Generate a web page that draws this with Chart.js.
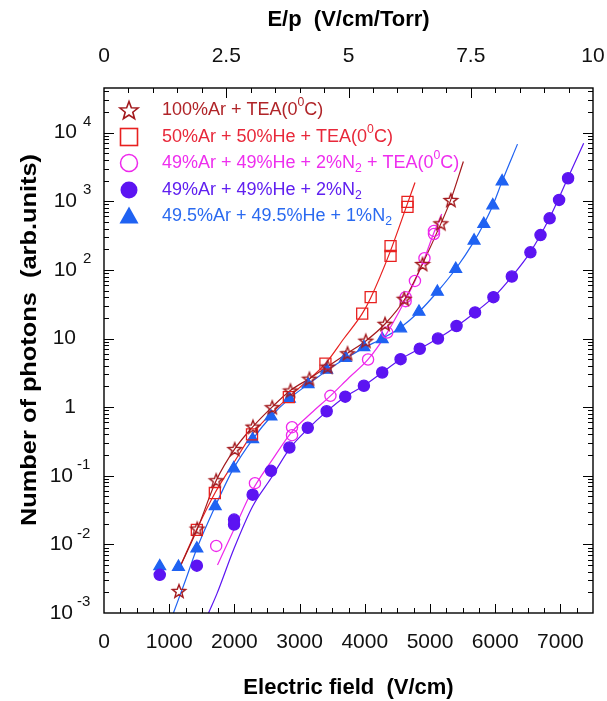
<!DOCTYPE html>
<html><head><meta charset="utf-8">
<script src="https://cdn.jsdelivr.net/npm/chart.js@4.4.0/dist/chart.umd.min.js"></script>
<style>html,body{margin:0;padding:0;background:#fff;}#wrap{width:607px;height:701px;}</style>
</head><body><div id="wrap"><canvas id="c" width="607" height="701"></canvas></div>
<script>
// ---------- data ----------
const seriesLabels = [
  '100%Ar + TEA(0^{0}C)',
  '50%Ar + 50%He + TEA(0^{0}C)',
  '49%Ar + 49%He + 2%N_{2} + TEA(0^{0}C)',
  '49%Ar + 49%He + 2%N_{2}',
  '49.5%Ar + 49.5%He + 1%N_{2}'
];
// 100%Ar + TEA (stars)
const starField   = [1150, 1430, 1720, 2005, 2285, 2580, 2860, 3150, 3430, 3735, 4015, 4310, 4605, 4885, 5165, 5320];
const starPhotons = [0.0021, 0.017, 0.086, 0.245, 0.52, 1.0, 1.75, 2.6, 3.9, 6.1, 9.3, 16.4, 38, 122, 478, 1045];
// 50%Ar + 50%He + TEA (open squares)
const squareField   = [1424, 1700, 2270, 2835, 3396, 3960, 4090, 4395, 4395, 4655, 4655];
const squarePhotons = [0.0163, 0.056, 0.40, 1.4, 4.3, 23, 40, 160, 222, 830, 980];
// 49%Ar + 49%He + 2%N2 + TEA (open circles)
const openCircleField   = [1721, 2315, 2884, 2884, 3473, 4050, 4344, 4626, 4626, 4769, 4915, 5061, 5061];
const openCirclePhotons = [0.0095, 0.078, 0.51, 0.39, 1.46, 4.95, 12.2, 35, 40, 69, 148, 333, 370];
// 49%Ar + 49%He + 2%N2 (filled circles)
const dotField   = [855, 1424, 1995, 1995, 2280, 2561, 2843, 3125, 3415, 3700, 3986, 4267, 4549, 4843, 5122, 5407, 5691, 5973, 6255, 6540, 6695, 6835, 6980, 7118];
const dotPhotons = [0.0036, 0.0049, 0.0230, 0.0195, 0.053, 0.118, 0.258, 0.50, 0.87, 1.42, 2.05, 3.2, 5.0, 7.1, 10, 15.2, 24, 40, 80, 180, 321, 563, 1045, 2165];
// 49.5%Ar + 49.5%He + 1%N2 (filled triangles)
const triField   = [855, 1142, 1424, 1706, 1990, 2280, 2561, 2843, 3130, 3415, 3704, 3986, 4267, 4549, 4831, 5113, 5394, 5676, 5825, 5963, 6106];
const triPhotons = [0.0048, 0.0047, 0.0087, 0.036, 0.128, 0.34, 0.73, 1.33, 2.15, 3.5, 5.2, 7.5, 9.8, 14, 24.5, 48, 103, 266, 465, 870, 1950];

// fitted curves
const starFitField   = [1157, 1434, 1721, 2003, 2285, 2577, 2858, 3150, 3430, 3735, 4020, 4313, 4610, 4890, 5170, 5317, 5512];
const starFitPhotons = [0.0045, 0.017, 0.085, 0.244, 0.52, 1.0, 1.75, 2.6, 3.9, 6.1, 9.3, 16.4, 37, 125, 480, 1040, 3800];
const squareFitField   = [1157, 1424, 1706, 2000, 2270, 2550, 2833, 3115, 3396, 3680, 3960, 4090, 4385, 4650, 4770];
const squareFitPhotons = [0.0045, 0.0166, 0.057, 0.16, 0.40, 0.78, 1.4, 2.4, 4.3, 10, 23, 39, 180, 900, 1880];
const openCircleFitField   = [1741, 2000, 2270, 2580, 2884, 3180, 3473, 3760, 4050, 4344, 4626, 4769, 4915, 5061, 5180];
const openCircleFitPhotons = [0.005, 0.017, 0.06, 0.17, 0.44, 0.82, 1.46, 2.7, 4.95, 12.2, 37, 69, 148, 350, 650];
const dotFitField   = [1603, 1731, 1990, 2280, 2561, 2843, 3125, 3412, 3704, 3986, 4267, 4549, 4841, 5122, 5404, 5691, 5973, 6255, 6536, 6829, 7111, 7357];
const dotFitPhotons = [0.001, 0.0019, 0.0085, 0.036, 0.092, 0.245, 0.48, 0.86, 1.43, 2.05, 3.2, 5.0, 7.1, 10, 15, 24, 40, 80, 180, 560, 2150, 7000];
const triFitField   = [1065, 1250, 1424, 1706, 1987, 2280, 2561, 2843, 3130, 3415, 3704, 3986, 4267, 4549, 4831, 5113, 5394, 5676, 5825, 5963, 6106, 6342];
const triFitPhotons = [0.001, 0.003, 0.0087, 0.036, 0.128, 0.34, 0.73, 1.33, 2.15, 3.4, 5.1, 7.3, 10, 14.5, 24.5, 48, 103, 260, 465, 870, 1950, 6800];

// axis tick labels
const fieldTickLabels = ['0', '1000', '2000', '3000', '4000', '5000', '6000', '7000'];
const eOverPTickLabels = ['0', '2.5', '5', '7.5', '10'];
const photonTickExponents = [-3, -2, -1, 0, 1, 2, 3, 4];
const xTitle = 'Electric field  (V/cm)';
const yTitle = 'Number of photons  (arb.units)';
const topTitle = 'E/p  (V/cm/Torr)';

// ---------- styles ----------
const FONT = '"Liberation Sans", Arial, Helvetica, sans-serif';
const C_STAR = '#a3191d', C_SQ = '#e8201f', C_OC = '#ee28ec', C_DOT = '#5c14f2', C_TRI = '#1f62f2';
const TEXT_COLORS = ['#b02428', '#e8283a', '#ee2eee', '#6020f0', '#2a6af0'];

function pts(xs, ys) { return xs.map((x, i) => ({ x: x, y: ys[i] })); }

function starPath(ctx, cx, cy, R, r) {
  ctx.beginPath();
  for (let i = 0; i < 10; i++) {
    const rad = (i % 2 === 0) ? R : r;
    const ang = -Math.PI / 2 + i * Math.PI / 5;
    const px = cx + rad * Math.cos(ang), py = cy + rad * Math.sin(ang);
    if (i === 0) ctx.moveTo(px, py); else ctx.lineTo(px, py);
  }
  ctx.closePath();
}
function makeStar(R, color, lw) {
  const s = Math.ceil(2 * R + 4);
  const cv = document.createElement('canvas'); cv.width = s; cv.height = s;
  const g = cv.getContext('2d');
  g.strokeStyle = color; g.lineWidth = lw; g.lineJoin = 'miter';
  starPath(g, s / 2, s / 2 + R * 0.1, R, R * 0.42);
  g.stroke();
  return cv;
}
const starImg = makeStar(7, C_STAR, 1.4);

function markerDs(label, xs, ys, style, radius, color, filled) {
  return {
    label: label, data: pts(xs, ys), showLine: false, order: 1,
    pointStyle: style, pointRadius: radius, pointHoverRadius: radius,
    pointBorderColor: color, pointBackgroundColor: filled ? color : 'rgba(0,0,0,0)',
    pointBorderWidth: 1.3, borderColor: color, backgroundColor: color
  };
}
function curveDs(xs, ys, color) {
  return {
    label: '', data: pts(xs, ys), showLine: true, order: 2, pointRadius: 0, pointHoverRadius: 0,
    borderColor: color, borderWidth: 1.2, cubicInterpolationMode: 'monotone', fill: false
  };
}

// ---------- rich text (super/subscripts) ----------
function parseRich(str) {
  const out = []; let i = 0, buf = '';
  while (i < str.length) {
    const ch = str[i];
    if ((ch === '^' || ch === '_') && str[i + 1] === '{') {
      if (buf) { out.push({ t: buf, k: 0 }); buf = ''; }
      const end = str.indexOf('}', i);
      out.push({ t: str.slice(i + 2, end), k: ch === '^' ? 1 : -1 });
      i = end + 1;
    } else { buf += ch; i++; }
  }
  if (buf) out.push({ t: buf, k: 0 });
  return out;
}
function drawRich(ctx, str, x, y, size, color) {
  ctx.fillStyle = color; ctx.textBaseline = 'middle'; ctx.textAlign = 'left';
  let cx = x;
  for (const seg of parseRich(str)) {
    const fs = seg.k === 0 ? size : size * 0.68;
    ctx.font = fs + 'px ' + FONT;
    const dy = seg.k === 1 ? -size * 0.42 : (seg.k === -1 ? size * 0.3 : 0);
    ctx.fillText(seg.t, cx, y + dy);
    cx += ctx.measureText(seg.t).width;
  }
}

// ---------- axes / legend plugin ----------
const framePlugin = {
  id: 'frame',
  afterDraw(chart) {
    const ctx = chart.ctx, a = chart.chartArea;
    const xs = chart.scales.x, x2 = chart.scales.x2, ys = chart.scales.y;
    ctx.save();
    // ticks
    ctx.strokeStyle = '#000'; ctx.lineWidth = 1;
    ctx.beginPath();
    for (let v = 250; v < xs.max; v += 250) {
      const px = Math.round(xs.getPixelForValue(v)) + 0.5;
      const L = (v % 1000 === 0) ? 9 : 5;
      ctx.moveTo(px, a.bottom); ctx.lineTo(px, a.bottom - L);
    }
    for (let v = 0.5; v < 10; v += 0.5) {
      const px = Math.round(x2.getPixelForValue(v)) + 0.5;
      const L = (Math.abs(v / 2.5 - Math.round(v / 2.5)) < 1e-6) ? 10 : 5;
      ctx.moveTo(px, a.top); ctx.lineTo(px, a.top + L);
    }
    for (let e = -3; e <= 4; e++) {
      for (let m = 1; m <= 9; m++) {
        const v = m * Math.pow(10, e);
        if (v > ys.max || v <= ys.min) continue;
        const py = Math.round(ys.getPixelForValue(v)) + 0.5;
        const L = m === 1 ? 10 : 5;
        ctx.moveTo(a.left, py); ctx.lineTo(a.left + L, py);
        ctx.moveTo(a.right, py); ctx.lineTo(a.right - L, py);
      }
    }
    ctx.stroke();
    // frame
    ctx.lineWidth = 1.4;
    ctx.strokeRect(a.left, a.top, a.right - a.left, a.bottom - a.top);

    // tick labels
    ctx.fillStyle = '#111';
    ctx.font = '21px ' + FONT; ctx.textAlign = 'center'; ctx.textBaseline = 'middle';
    fieldTickLabels.forEach(t => {
      ctx.fillText(t, xs.getPixelForValue(parseFloat(t)), 642);
    });
    eOverPTickLabels.forEach(t => {
      ctx.fillText(t, x2.getPixelForValue(parseFloat(t)), 56);
    });
    photonTickExponents.forEach(e => {
      const py = ys.getPixelForValue(Math.pow(10, e));
      ctx.font = '21px ' + FONT; ctx.textBaseline = 'middle';
      if (e === 0 || e === 1) {
        ctx.textAlign = 'right';
        ctx.fillText(e === 0 ? '1' : '10', 76, py);
      } else {
        const base = e < 0 ? 73 : 77;
        ctx.textAlign = 'right';
        ctx.fillText('10', base, py);
        ctx.font = '15px ' + FONT; ctx.textAlign = 'left';
        ctx.fillText(String(e), base + (e < 0 ? 4 : 6), py - 11);
      }
    });

    // titles
    ctx.fillStyle = '#000';
    ctx.font = 'bold 22px ' + FONT; ctx.textAlign = 'center'; ctx.textBaseline = 'middle';
    ctx.fillText(xTitle, (a.left + a.right) / 2, 688);
    ctx.fillText(topTitle, (a.left + a.right) / 2, 20);
    ctx.save();
    ctx.translate(30, 340); ctx.rotate(-Math.PI / 2);
    const w = ctx.measureText(yTitle).width;
    ctx.scale(372 / w, 1);
    ctx.fillText(yTitle, 0, 0);
    ctx.restore();

    // legend
    const rowY = [110, 137, 163, 190, 216];
    const mx = 129, tx = 162;
    ctx.strokeStyle = C_STAR; ctx.lineWidth = 1.6;
    starPath(ctx, mx, rowY[0] + 1, 9.5, 4);
    ctx.stroke();
    ctx.strokeStyle = C_SQ; ctx.lineWidth = 1.6;
    ctx.strokeRect(mx - 8.5, rowY[1] - 8.5, 17, 17);
    ctx.strokeStyle = C_OC; ctx.lineWidth = 1.5;
    ctx.beginPath(); ctx.arc(mx, rowY[2], 8.5, 0, Math.PI * 2); ctx.stroke();
    ctx.fillStyle = C_DOT;
    ctx.beginPath(); ctx.arc(mx, rowY[3], 8.5, 0, Math.PI * 2); ctx.fill();
    ctx.fillStyle = C_TRI;
    ctx.beginPath(); ctx.moveTo(mx, rowY[4] - 9.5); ctx.lineTo(mx + 9.5, rowY[4] + 7.5); ctx.lineTo(mx - 9.5, rowY[4] + 7.5); ctx.closePath(); ctx.fill();
    seriesLabels.forEach((lab, i) => drawRich(ctx, lab, tx, rowY[i], 18, TEXT_COLORS[i]));
    ctx.restore();
  }
};

new Chart(document.getElementById('c'), {
  type: 'scatter',
  data: {
    datasets: [
      markerDs(seriesLabels[0], starField, starPhotons, starImg, 7, C_STAR, false),
      markerDs(seriesLabels[1], squareField, squarePhotons, 'rect', 7.8, C_SQ, false),
      markerDs(seriesLabels[2], openCircleField, openCirclePhotons, 'circle', 5.6, C_OC, false),
      markerDs(seriesLabels[3], dotField, dotPhotons, 'circle', 5.6, C_DOT, true),
      markerDs(seriesLabels[4], triField, triPhotons, 'triangle', 6.8, C_TRI, true),
      curveDs(starFitField, starFitPhotons, C_STAR),
      curveDs(squareFitField, squareFitPhotons, C_SQ),
      curveDs(openCircleFitField, openCircleFitPhotons, C_OC),
      curveDs(dotFitField, dotFitPhotons, C_DOT),
      curveDs(triFitField, triFitPhotons, C_TRI)
    ]
  },
  options: {
    responsive: false, animation: false, devicePixelRatio: 1,
    layout: { padding: { left: 104, right: 14, top: 88, bottom: 88 } },
    plugins: { legend: { display: false }, tooltip: { enabled: false } },
    scales: {
      x: { type: 'linear', min: 0, max: 7500, display: false },
      x2: { type: 'linear', position: 'top', min: 0, max: 10, display: false },
      y: { type: 'logarithmic', min: 0.001, max: 44700, display: false }
    }
  },
  plugins: [framePlugin]
});
</script></body></html>
